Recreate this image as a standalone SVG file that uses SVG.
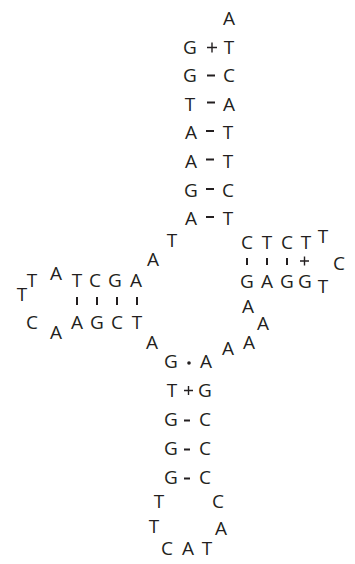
<svg xmlns="http://www.w3.org/2000/svg" width="355" height="564" viewBox="0 0 355 564">
<style>
text{font-family:"Open Sans","Noto Sans","Liberation Sans",sans-serif;font-size:19px;fill:#231f20;text-anchor:middle}
.bp{stroke:#231f20;stroke-width:2;fill:none}
.wb{stroke:#231f20;stroke-width:1.4;fill:none}
</style>
<rect width="355" height="564" fill="#fff"/>
<g id="acceptor-stem">
<text x="229" y="25">A</text>
<text x="190" y="53.6">G</text><text x="229" y="53.6">T</text>
<text x="190" y="82.2">G</text><text x="229" y="82.2">C</text>
<text x="190" y="110.8">T</text><text x="229" y="110.8">A</text>
<text x="191" y="139.4">A</text><text x="228" y="139.4">T</text>
<text x="191" y="168">A</text><text x="228" y="168">T</text>
<text x="191" y="196.6">G</text><text x="228" y="196.6">C</text>
<text x="191" y="225.2">A</text><text x="228" y="225.2">T</text>
</g>
<g id="junction-top">
<text x="172" y="246.5">T</text>
<text x="153" y="266">A</text>
</g>
<g id="d-arm">
<text x="32" y="287">T</text>
<text x="56" y="280">A</text>
<text x="77" y="287">T</text>
<text x="95" y="287">C</text>
<text x="115" y="287">G</text>
<text x="136" y="287">A</text>
<text x="22" y="301">T</text>
<text x="32" y="329">C</text>
<text x="56" y="339">A</text>
<text x="77" y="329">A</text>
<text x="97" y="329">G</text>
<text x="117" y="329">C</text>
<text x="137" y="329">T</text>
</g>
<g id="junction-left">
<text x="152" y="349">A</text>
</g>
<g id="t-arm">
<text x="247" y="249">C</text>
<text x="267" y="249">T</text>
<text x="287" y="249">C</text>
<text x="306" y="249">T</text>
<text x="323" y="243">T</text>
<text x="339" y="270">C</text>
<text x="247" y="288">G</text>
<text x="267" y="288">A</text>
<text x="287" y="288">G</text>
<text x="305" y="288">G</text>
<text x="323" y="293">T</text>
</g>
<g id="variable-loop">
<text x="248" y="313">A</text>
<text x="263" y="330">A</text>
<text x="249" y="349">A</text>
<text x="228" y="355">A</text>
</g>
<g id="anticodon-stem">
<text x="171" y="368">G</text><text x="206" y="368">A</text>
<text x="172" y="397">T</text><text x="205" y="397">G</text>
<text x="171" y="426">G</text><text x="205" y="426">C</text>
<text x="171" y="455">G</text><text x="205" y="455">C</text>
<text x="171" y="484">G</text><text x="205" y="484">C</text>
</g>
<g id="anticodon-loop">
<text x="159" y="508">T</text>
<text x="218" y="508">C</text>
<text x="154" y="533">T</text>
<text x="221" y="535">A</text>
<text x="167" y="555">C</text>
<text x="188" y="555">A</text>
<text x="207" y="555">T</text>
</g>
<g id="connectors">
<path class="wb" d="M207 47.5h10M212 42.5v10"/>
<path class="bp" d="M207 75.5h8M207 102.5h8M206 131h8M206 159.5h8M206 189h8M206 217h8"/>
<path class="bp" d="M77 297v8M97 297v8M117 297v8M137 297v8"/>
<path class="bp" d="M247 258v7M267 258v7M287 258v7"/>
<path class="wb" d="M300 261h9M304.5 256.5v9"/>
<circle cx="189" cy="363" r="1.8" fill="#231f20"/>
<path class="wb" d="M184 390.5h9M188.5 386v9"/>
<path class="bp" d="M184 420.5h6M184 449.5h6M184 478.5h6"/>
</g>
</svg>
